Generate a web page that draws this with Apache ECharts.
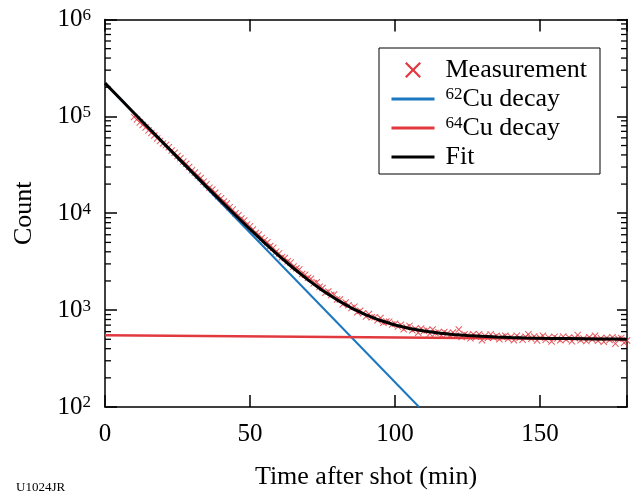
<!DOCTYPE html>
<html>
<head>
<meta charset="utf-8">
<script src="https://cdn.jsdelivr.net/npm/echarts@6/dist/echarts.min.js"></script>
<style>
  html, body { margin: 0; padding: 0; background: #fff; }
  #chart { width: 631px; height: 495px; }
</style>
</head>
<body>
<div id="chart"></div>
<script>
// Time axis (minutes after the shot)
const timeRange = [0, 180];
const timeInterval = 50;
// Count axis decades
const countRange = [100, 1000000];
const minorTickValues = [
  200, 300, 400, 500, 600, 700, 800, 900,
  2000, 3000, 4000, 5000, 6000, 7000, 8000, 9000,
  20000, 30000, 40000, 50000, 60000, 70000, 80000, 90000,
  200000, 300000, 400000, 500000, 600000, 700000, 800000, 900000
];

// Measured counts, one sample per minute starting at t = 10 min
const measStart = 10;
const measStep = 1;
const measCounts = [
  98780, 93040, 86700, 81660, 76920, 71690, 67520, 63580, 59250, 55810,
  52560, 50500, 48000, 44310, 42110, 38900, 36980, 34150, 32450, 29980,
  27710, 26340, 24340, 23150, 21190, 19970, 18280, 17570, 16250, 15020,
  14300, 13240, 12600, 11560, 10910, 10010, 9539, 8840, 8428, 7671,
  7321, 6794, 6245, 6024, 5545, 5253, 5024, 4587, 4393, 4014,
  3851, 3523, 3448, 3189, 3094, 2813, 2709, 2633, 2356, 2318,
  2157, 2105, 1889, 1937, 1743, 1693, 1509, 1557, 1433, 1452,
  1290, 1286, 1153, 1200, 1123, 1051, 1086, 952, 987, 929,
  857, 911, 843, 846, 785, 828, 740, 762, 760, 709,
  724, 676, 705, 634, 664, 687, 619, 643, 585, 645,
  608, 620, 572, 631, 579, 592, 547, 594, 573, 547,
  588, 546, 632, 529, 564, 551, 511, 563, 528, 564,
  488, 544, 516, 562, 523, 543, 500, 530, 544, 506,
  532, 489, 545, 518, 496, 531, 562, 505, 535, 487,
  518, 543, 496, 521, 474, 530, 509, 489, 533, 498,
  522, 476, 516, 552, 490, 510, 479, 524, 498, 543,
  483, 512, 472, 517, 491, 526, 451, 506, 515, 460,
  485
];

// 62Cu decay component (straight on the log scale)
const cu62Times = [0, 108.3];
const cu62Counts = [220000, 100];

// 64Cu decay component
const cu64Times = [0, 180];
const cu64Counts = [550, 500];

// Two-component fit
const fitTimes = [0, 5, 10, 15, 20, 25, 30, 35, 40, 45, 50, 55, 60, 65, 70, 75, 80, 85, 90,
  95, 100, 105, 110, 115, 120, 125, 130, 135, 140, 145, 150, 155, 160, 165, 170, 175, 180];
const fitCounts = [220550, 154650, 108540, 76260, 53630, 37760, 26640, 18840, 13370, 9532,
  6842, 4956, 3633, 2705, 2054, 1597, 1277, 1051, 893, 781, 703, 647, 609, 580, 561, 547,
  536, 528, 522, 517, 513, 510, 508, 506, 504, 502, 500];

const seriesNames = ['Measurement', '62Cu decay', '64Cu decay', 'Fit'];

const FONT = '"Liberation Serif", "Times New Roman", serif';
const RED = '#e2393f';
const BLUE = '#1b77c0';
const CROSS = 'path://M1,0L5,4L9,0L10,1L6,5L10,9L9,10L5,6L1,10L0,9L4,5L0,1Z';
const HIDDEN = { color: 'rgba(0,0,0,0)', borderColor: 'rgba(0,0,0,0)', borderWidth: 0 };

const zip = (xs, ys) => xs.map((x, i) => [x, ys[i]]);
const measData = measCounts.map((v, i) => [measStart + i * measStep, v]);

const chart = echarts.init(document.getElementById('chart'), null, { renderer: 'canvas' });

const axisLineStyle = { color: '#000', width: 1.5 };

chart.setOption({
  animation: false,
  backgroundColor: '#fff',
  grid: { left: 105, right: 4, top: 19.5, bottom: 87.5, containLabel: false },
  xAxis: [
    {
      type: 'value', position: 'bottom',
      min: timeRange[0], max: timeRange[1], interval: timeInterval,
      name: 'Time after shot (min)', nameLocation: 'middle', nameGap: 57,
      nameTextStyle: { fontFamily: FONT, fontSize: 26, color: '#000' },
      axisLine: { show: true, onZero: false, lineStyle: axisLineStyle },
      axisTick: { show: true, inside: true, length: 12, lineStyle: axisLineStyle },
      axisLabel: { show: true, margin: 15, fontFamily: FONT, fontSize: 25, color: '#000',
        formatter: v => (v % timeInterval === 0 ? String(v) : '') },
      splitLine: { show: false }
    },
    {
      type: 'value', position: 'top',
      min: timeRange[0], max: timeRange[1], interval: timeInterval,
      axisLine: { show: true, onZero: false, lineStyle: axisLineStyle },
      axisTick: { show: true, inside: true, length: 12, lineStyle: axisLineStyle },
      axisLabel: { show: false },
      splitLine: { show: false }
    }
  ],
  yAxis: [
    {
      type: 'log', logBase: 10, position: 'left',
      min: countRange[0], max: countRange[1],
      name: 'Count', nameLocation: 'middle', nameGap: 68,
      nameTextStyle: { fontFamily: FONT, fontSize: 26, color: '#000' },
      axisLine: { show: true, onZero: false, lineStyle: axisLineStyle },
      axisTick: { show: true, inside: true, length: 12, lineStyle: axisLineStyle },
      axisLabel: {
        show: true, margin: 14,
        formatter: v => '{b|10}{e|' + Math.round(Math.log10(v)) + '}',
        rich: {
          b: { fontFamily: FONT, fontSize: 25, lineHeight: 25, color: '#000' },
          e: { fontFamily: FONT, fontSize: 17, lineHeight: 17, color: '#000', verticalAlign: 'top' }
        }
      },
      splitLine: { show: false },
      minorTick: { show: false }
    },
    {
      type: 'log', logBase: 10, position: 'right',
      min: countRange[0], max: countRange[1],
      axisLine: { show: true, onZero: false, lineStyle: axisLineStyle },
      axisTick: { show: true, inside: true, length: 10, lineStyle: axisLineStyle },
      axisLabel: { show: false },
      splitLine: { show: false },
      minorTick: { show: false }
    }
  ],
  legend: {
    orient: 'vertical',
    left: 379, top: 48,
    padding: [9, 13, 4, 11],
    itemGap: 3,
    itemWidth: 43, itemHeight: 16,
    borderColor: '#000', borderWidth: 1,
    backgroundColor: '#fff',
    data: [
      { name: 'Measurement', icon: CROSS, itemStyle: { color: RED, opacity: 1 } },
      { name: '62Cu decay', itemStyle: HIDDEN, lineStyle: { width: 3 } },
      { name: '64Cu decay', itemStyle: HIDDEN, lineStyle: { width: 3 } },
      { name: 'Fit', itemStyle: HIDDEN, lineStyle: { width: 3 } }
    ],
    formatter: name => {
      const m = name.match(/^(\d+)(.*)$/);
      return m ? '{s|' + m[1] + '}{t|' + m[2] + '}' : '{t|' + name + '}';
    },
    textStyle: {
      padding: [0, 0, 0, 6],
      rich: {
        t: { fontFamily: FONT, fontSize: 26, lineHeight: 25, color: '#000' },
        s: { fontFamily: FONT, fontSize: 17, lineHeight: 17, color: '#000', verticalAlign: 'top' }
      }
    }
  },
  graphic: [
    { type: 'text', left: 16, top: 481,
      style: { text: 'U1024JR', font: '13px "Liberation Serif", serif', fill: '#000' } }
  ],
  series: [
    {
      name: seriesNames[0], type: 'scatter',
      data: measData,
      symbol: CROSS, symbolSize: 7,
      itemStyle: { color: RED, opacity: 0.85 },
      z: 2
    },
    {
      name: seriesNames[1], type: 'line',
      data: zip(cu62Times, cu62Counts),
      symbol: 'none', showSymbol: false,
      lineStyle: { color: BLUE, width: 2 },
      itemStyle: { color: BLUE },
      z: 3
    },
    {
      name: seriesNames[2], type: 'line',
      data: zip(cu64Times, cu64Counts),
      symbol: 'none', showSymbol: false,
      lineStyle: { color: RED, width: 2.5 },
      itemStyle: { color: RED },
      z: 4
    },
    {
      name: seriesNames[3], type: 'line',
      data: zip(fitTimes, fitCounts),
      symbol: 'none', showSymbol: false,
      lineStyle: { color: '#000', width: 3 },
      itemStyle: { color: '#000' },
      z: 5
    },
    {
      // minor log ticks (2..9 in each decade) on the left and right frame
      type: 'custom', silent: true,
      xAxisIndex: 0, yAxisIndex: 0,
      data: minorTickValues.map(v => [0, v]),
      clip: false,
      renderItem: (params, api) => {
        const y = api.coord([0, api.value(1)])[1];
        const cs = params.coordSys;
        const st = { stroke: '#000', lineWidth: 1.3 };
        return {
          type: 'group',
          children: [
            { type: 'line', shape: { x1: cs.x, y1: y, x2: cs.x + 6, y2: y }, style: st },
            { type: 'line', shape: { x1: cs.x + cs.width - 6, y1: y, x2: cs.x + cs.width, y2: y }, style: st }
          ]
        };
      },
      z: 6
    }
  ]
});
</script>
</body>
</html>
